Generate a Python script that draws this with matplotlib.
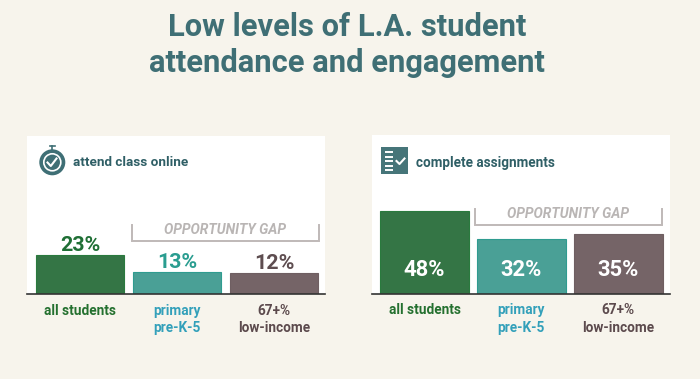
import matplotlib
matplotlib.use('Agg')
import matplotlib.pyplot as plt
from matplotlib.patches import Circle, Rectangle

plt.rcParams['font.family'] = ['Roboto', 'DejaVu Sans']

title = 'Low levels of L.A. student\nattendance and engagement'
groups = ['all students', 'primary\npre-K-5', '67+%\nlow-income']
attend_values = [23, 13, 12]
assign_values = [48, 32, 35]
panel_names = ['attend class online', 'complete assignments']
gap_label = 'OPPORTUNITY GAP'

bg = '#f7f4ec'
teal = '#3f6f75'
dark_teal = '#2f5f66'
bar_colors = ['#347545', '#4aa096', '#756467']
edge_colors = ['#2a7a3e', '#2f9c90', '#6f5f62']
label_colors = ['#24702f', '#33a0ba', '#5c4a4d']
value_colors = ['#1f6f35', '#2a9d90', '#5e4d50']
bracket_color = '#bfb9b8'
gap_color = '#b9b5b4'

W, H = 700, 379
PX_PER_PCT = 1.71
STEP = 96.9
BAR_W = 88.5


def px_axes(fig, left, right, top, bottom):
    return fig.add_axes([left / W, 1 - bottom / H, (right - left) / W, (bottom - top) / H])


def draw_panel(fig, left, top, bottom, values, inside, first_c, pad):
    right = left + 298
    ax = px_axes(fig, left, right, top, bottom)
    ax.set_xlim(-first_c / STEP, (right - left - first_c) / STEP)
    ax.set_ylim(0, (bottom - top) / PX_PER_PCT)
    ax.set_facecolor('white')
    ax.bar(range(3), values, width=BAR_W / STEP, color=bar_colors,
           edgecolor=edge_colors, linewidth=0.8)
    for spine in ['top', 'left', 'right']:
        ax.spines[spine].set_visible(False)
    ax.spines['bottom'].set_color('#333333')
    ax.spines['bottom'].set_linewidth(1.2)
    ax.set_yticks([])
    ax.set_xticks(range(3))
    ax.set_xticklabels(groups, fontsize=9.8, fontweight='bold', linespacing=1.33)
    ax.tick_params(axis='x', length=0, pad=pad)
    for tick, c in zip(ax.get_xticklabels(), label_colors):
        tick.set_color(c)
        tick.set_verticalalignment('top')
    for i, v in enumerate(values):
        if inside:
            ax.annotate(f'{v}%', (i, 0), xytext=(0, 17), textcoords='offset points',
                        ha='center', va='center', color='white', fontsize=15.8, fontweight='bold')
        else:
            ax.annotate(f'{v}%', (i, v), xytext=(0, 0), textcoords='offset points',
                        ha='center', va='bottom', color=value_colors[i], fontsize=15.4,
                        fontweight='semibold')
    return ax


fig = plt.figure(figsize=(7, 3.79), dpi=100, facecolor=bg)

draw_panel(fig, 27, 136, 294, attend_values, False, 53.2, 7)
draw_panel(fig, 372, 135, 293.5, assign_values, True, 52.5, 7)

# overlay in pixel coords for title, icons, brackets
ov = fig.add_axes([0, 0, 1, 1], facecolor='none')
ov.set_xlim(0, W)
ov.set_ylim(H, 0)
ov.axis('off')

ov.text(347, 44.5, title, ha='center', va='center', fontsize=22.2, fontweight='bold',
        color=teal, linespacing=1.25)

ov.text(73, 162, panel_names[0], ha='left', va='center', fontsize=9.7,
        fontweight='bold', color=dark_teal)
ov.text(416, 162.7, panel_names[1], ha='left', va='center', fontsize=9.75,
        fontweight='bold', color=dark_teal)

# brackets
for x0, x1, y0, y1, tx, ty in [(132, 319, 225, 241, 224.5, 229.5), (475, 662, 209, 225, 568, 213.5)]:
    ov.plot([x0, x0, x1, x1], [y0, y1, y1, y0], color=bracket_color, lw=1.4,
            solid_joinstyle='miter')
    ov.text(tx, ty, gap_label, ha='center', va='center', fontsize=10,
            fontstyle='italic', fontweight='bold', color=gap_color)

# stopwatch icon
ov.plot([52, 52], [145.5, 150], color=teal, lw=1.2)
ov.plot([49.5, 54.5], [145.5, 145.5], color=teal, lw=1.2)
ov.add_patch(Circle((52.3, 162.3), 13, color=teal, lw=0))
ov.add_patch(Circle((52.3, 162.3), 8.5, facecolor='none', edgecolor='white', lw=1.2))
ov.plot([47.5, 50.8, 56.5], [162.5, 166, 158.5], color='white', lw=1.5)

# checklist icon
ov.add_patch(Rectangle((381, 147), 27, 26.5, color='#467579', lw=0))
for yy in [152, 156.5, 161, 165.5, 170]:
    ov.plot([385, 393], [yy, yy], color='white', lw=1.4, solid_capstyle='butt')
ov.plot([396.5, 399.5, 404.5], [161, 164, 158.5], color='white', lw=1.5)

fig.savefig('out.png', dpi=100, facecolor=bg)
